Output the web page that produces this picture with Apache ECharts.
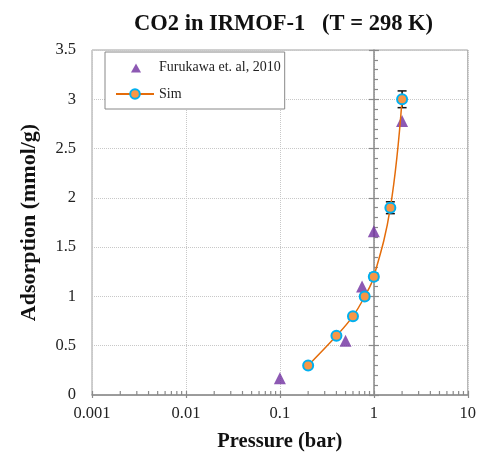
<!DOCTYPE html>
<html><head><meta charset="utf-8">
<script src="https://cdn.jsdelivr.net/npm/echarts@6/dist/echarts.min.js"></script>
<style>html,body{margin:0;padding:0;background:#fff}#c{width:479px;height:457px}</style>
</head><body><div id="c"></div>
<script>
// ---- data ----
const simPressure   = [0.2, 0.4, 0.6, 0.8, 1.0, 1.5, 2.0];
const simAdsorption = [0.30, 0.60, 0.80, 1.00, 1.20, 1.90, 3.00];
const simError      = [0.01, 0.015, 0.02, 0.03, 0.035, 0.06, 0.085];
const expPressure   = [0.1, 0.5, 0.75, 1.0, 2.0];
const expAdsorption = [0.17, 0.55, 1.10, 1.66, 2.78];
const seriesNames   = ['Furukawa et. al, 2010', 'Sim'];
const titleText     = 'CO2 in IRMOF-1   (T = 298 K)';
const xName = 'Pressure (bar)';
const yName = 'Adsorption (mmol/g)';

// minor tick positions for the log axis (2..9 in each decade)
const minorTicks = [];
for (let e = -3; e <= 0; e++) for (let k = 2; k <= 9; k++) minorTicks.push([k * Math.pow(10, e), 0]);

const FONT = 'Liberation Serif';
const AX = '#8a8a8a';
const simData = simPressure.map((p, i) => [p, simAdsorption[i]]);
const errData = simPressure.map((p, i) => [p, simAdsorption[i], simError[i]]);
const expData = expPressure.map((p, i) => [p, expAdsorption[i]]);

const chart = echarts.init(document.getElementById('c'), null, {renderer: 'canvas'});
const yBase = {type: 'value', min: 0, max: 3.5, interval: 0.5, gridIndex: 0};
const xBase = {type: 'log', logBase: 10, min: 0.001, max: 10, gridIndex: 0};

// legend triangle drawn inside a 38x12 box so it sits centred like the line icon
const triIcon = 'path://M0,0 M38,12 M15,11.5 L20,2.5 L25,11.5 Z';

chart.setOption({
  animation: false,
  backgroundColor: '#fff',
  title: {
    text: titleText, left: 129, top: 8,
    textStyle: {fontFamily: FONT, fontWeight: 'bold', fontSize: 22.5, color: '#111'}
  },
  legend: {
    orient: 'vertical', left: 105, top: 52,
    padding: [8, 4, 8, 10], itemGap: 13, itemWidth: 38, itemHeight: 12,
    borderColor: '#888', borderWidth: 1, backgroundColor: '#fff',
    textStyle: {fontFamily: FONT, fontSize: 14, color: '#222'},
    data: [{name: seriesNames[0], icon: triIcon}, {name: seriesNames[1]}]
  },
  grid: {left: 92, right: 11, top: 50, bottom: 62, show: true, borderColor: '#a0a0a0', borderWidth: 1},
  xAxis: [
    Object.assign({}, xBase, {
      position: 'bottom',
      axisLine: {show: true, lineStyle: {color: AX, width: 1.5}},
      axisTick: {show: true, inside: true, length: 4, lineStyle: {color: AX, width: 1.2}},
      axisLabel: {fontFamily: FONT, fontSize: 16.5, color: '#222', margin: 10},
      splitLine: {show: true, lineStyle: {type: 'dotted', color: '#c8c8c8'}},
      name: xName, nameLocation: 'middle', nameGap: 36,
      nameTextStyle: {fontFamily: FONT, fontWeight: 'bold', fontSize: 20.5, color: '#111'}
    }),
    Object.assign({}, xBase, {
      position: 'bottom',
      axisLine: {show: false},
      axisTick: {show: true, inside: false, length: 3, lineStyle: {color: AX, width: 1.2}},
      axisLabel: {show: false}, splitLine: {show: false}
    })
  ],
  yAxis: [
    Object.assign({}, yBase, {
      position: 'left',
      axisLine: {show: false}, axisTick: {show: false},
      axisLabel: {fontFamily: FONT, fontSize: 16.5, color: '#222', margin: 16},
      splitLine: {show: true, lineStyle: {type: 'dotted', color: '#c8c8c8'}},
      name: yName, nameLocation: 'middle', nameGap: 52, nameRotate: 90,
      nameTextStyle: {fontFamily: FONT, fontWeight: 'bold', fontSize: 22, color: '#111'}
    }),
    Object.assign({}, yBase, {
      position: 'left', offset: -282,
      axisLine: {show: true, lineStyle: {color: AX, width: 1.5}},
      axisTick: {show: true, inside: true, length: 5, lineStyle: {color: AX, width: 1.2}},
      minorTick: {show: true, splitNumber: 5, length: 4, lineStyle: {color: AX, width: 1.2}},
      axisLabel: {show: false}, splitLine: {show: false}
    }),
    Object.assign({}, yBase, {
      position: 'left', offset: -282,
      axisLine: {show: false},
      axisTick: {show: true, inside: false, length: 5, lineStyle: {color: AX, width: 1.2}},
      axisLabel: {show: false}, splitLine: {show: false}
    })
  ],
  series: [
    {
      name: 'minorTicks', type: 'custom', xAxisIndex: 0, yAxisIndex: 0, silent: true, clip: false,
      data: minorTicks, z: 3,
      renderItem: function (params, api) {
        const p = api.coord([api.value(0), api.value(1)]);
        return {type: 'line', shape: {x1: p[0], y1: p[1], x2: p[0], y2: p[1] - 4},
                style: {stroke: AX, lineWidth: 1.2}};
      }
    },
    {
      name: seriesNames[0], type: 'scatter', xAxisIndex: 0, yAxisIndex: 0,
      symbol: 'triangle', symbolSize: 12, z: 4,
      itemStyle: {color: '#7030A0'},
      data: expData
    },
    {
      name: 'errorBars', type: 'custom', xAxisIndex: 0, yAxisIndex: 0, silent: true, z: 5,
      data: errData,
      renderItem: function (params, api) {
        const x = api.value(0), y = api.value(1), e = api.value(2);
        const t = api.coord([x, y + e]), b = api.coord([x, y - e]);
        const w = 4.5, st = {stroke: '#111', lineWidth: 1.5};
        return {type: 'group', children: [
          {type: 'line', shape: {x1: t[0], y1: t[1], x2: b[0], y2: b[1]}, style: st},
          {type: 'line', shape: {x1: t[0] - w, y1: t[1], x2: t[0] + w, y2: t[1]}, style: st},
          {type: 'line', shape: {x1: b[0] - w, y1: b[1], x2: b[0] + w, y2: b[1]}, style: st}
        ]};
      }
    },
    {
      name: seriesNames[1], type: 'line', xAxisIndex: 0, yAxisIndex: 0, smooth: 0.4, z: 6,
      symbol: 'circle', symbolSize: 10,
      lineStyle: {color: '#E46C0A', width: 1.5},
      itemStyle: {color: '#F79646', borderColor: '#00B0F0', borderWidth: 2},
      data: simData
    }
  ]
});
</script></body></html>
